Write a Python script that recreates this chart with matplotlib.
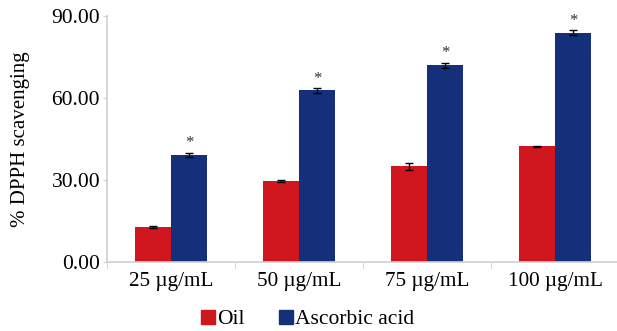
import numpy as np
import matplotlib.pyplot as plt
from matplotlib.patches import Patch

plt.rcParams['font.family'] = ['Liberation Serif', 'DejaVu Serif']

categories = ['25 µg/mL', '50 µg/mL', '75 µg/mL', '100 µg/mL']
oil = [12.8, 29.7, 35.0, 42.4]
oil_err = [0.3, 0.3, 1.2, 0.2]
ascorbic = [39.1, 62.8, 72.0, 83.9]
ascorbic_err = [0.8, 0.8, 0.9, 0.8]
yticks = [0, 30, 60, 90]

red = '#d0161f'
blue = '#15307a'
grey = '#d0d0d0'

fig = plt.figure(figsize=(6.17, 3.31), dpi=100)
ax = fig.add_axes([107 / 617, 1 - 262 / 331, 512 / 617, 246 / 331])

x = np.arange(len(categories))
w = 0.28
ax.bar(x - w / 2, oil, w, color=red, yerr=oil_err, capsize=3,
       error_kw=dict(ecolor='black', elinewidth=1, capthick=1))
ax.bar(x + w / 2, ascorbic, w, color=blue, yerr=ascorbic_err, capsize=3,
       error_kw=dict(ecolor='black', elinewidth=1, capthick=1))
for xi, v, e in zip(x, ascorbic, ascorbic_err):
    ax.text(xi + w / 2, v + e + 0.6, '*', ha='center', va='bottom',
            fontsize=12, color='#333333')

ax.set_xlim(-0.5, len(categories) - 0.5)
ax.set_ylim(0, 90)
ax.set_yticks(yticks)
ax.set_yticklabels([f'{t:.2f}' for t in yticks], fontsize=15.5)
ax.set_xticks(x)
ax.set_xticklabels(categories, fontsize=15.2)
ax.tick_params(axis='x', length=0, pad=7)
ax.tick_params(axis='y', length=3, color=grey, pad=2)
ax.set_xticks(np.arange(-0.5, len(categories)), minor=True)
ax.tick_params(axis='x', which='minor', length=5, color=grey)

for s in ['top', 'right']:
    ax.spines[s].set_visible(False)
for s in ['left', 'bottom']:
    ax.spines[s].set_color(grey)
    ax.spines[s].set_linewidth(1.2)

ax.set_ylabel('% DPPH scavenging', fontsize=15)
ax.yaxis.set_label_coords(-0.15, 0.5)

handles = [Patch(color=red, label='Oil'), Patch(color=blue, label='Ascorbic acid')]
fig.legend(handles=handles, loc='center', bbox_to_anchor=(0.498, 0.035), ncol=2,
           frameon=False, fontsize=15.5, handlelength=0.65, handleheight=0.65,
           handletextpad=0.1, columnspacing=1.6)

fig.savefig('out.png', dpi=100)
